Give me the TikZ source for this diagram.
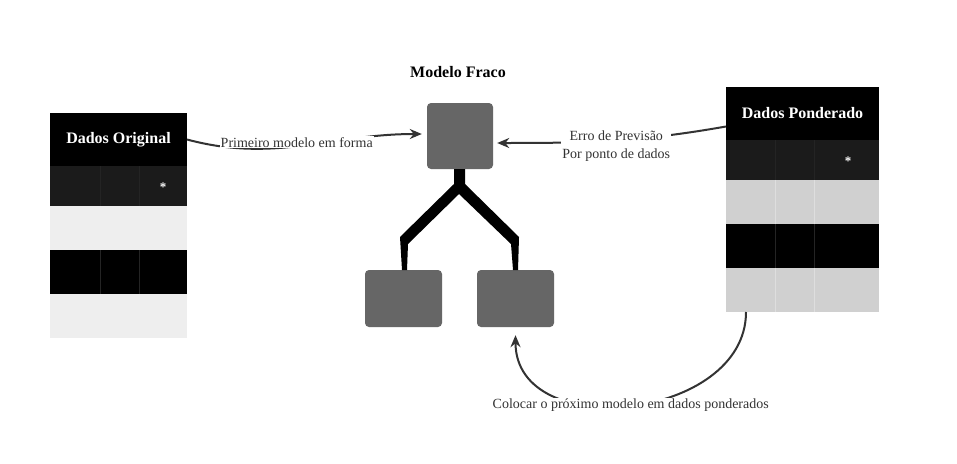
\documentclass[tikz,border=0pt]{standalone}
\usepackage{fontspec}
\setmainfont{Liberation Serif}
\usetikzlibrary{arrows.meta,calc}
\definecolor{rowdark}{HTML}{1B1B1B}
\definecolor{rowlight}{HTML}{EEEEEE}
\definecolor{rowgrey}{HTML}{D0D0D0}
\definecolor{boxgrey}{HTML}{666666}
\definecolor{linegrey}{HTML}{333333}
\tikzset{
  cell/.style={inner sep=0pt, outer sep=0pt, anchor=north},
  header/.style={cell, fill=black, text=white, font=\bfseries\fontsize{16}{18}\selectfont},
  model/.style={fill=boxgrey, rounded corners=4pt, inner sep=0pt},
  link/.style={draw=linegrey, line width=2pt, -{Stealth[length=12pt,width=10pt]}},
  caption/.style={fill=white, text=linegrey, inner sep=1pt, align=center,
    font=\fontsize{14}{18}\selectfont},
  mark text/.style={text=white, font=\bfseries\fontsize{13}{14}\selectfont}
}
\begin{document}
\begin{tikzpicture}[x=1pt, y=-1pt]
  \useasboundingbox[fill=white] (0,0) rectangle (957,463);
  % original data
  \node[header, minimum width=137pt, minimum height=53pt] (orig) at (118.5,113) {Dados Original};
  \foreach \i/\top/\h/\c in {1/166/40/rowdark, 2/206/44/rowlight, 3/250/44/black, 4/294/44/rowlight}
    \node[cell, fill=\c, minimum width=137pt, minimum height=\h] (orig-\i) at (118.5,\top) {};
  \foreach \x in {100,139}
    \draw[linegrey!70!black, line width=.6pt] (\x,166) -- (\x,206) (\x,250) -- (\x,294);
  \node[mark text] (orig-mark) at (163,187) {*};
  % weighted data
  \node[header, minimum width=153pt, minimum height=53pt] (pond) at (802.5,87) {Dados Ponderado};
  \foreach \i/\top/\h/\c in {1/140/40/rowdark, 2/180/44/rowgrey, 3/224/44/black, 4/268/44/rowgrey}
    \node[cell, fill=\c, minimum width=153pt, minimum height=\h] (pond-\i) at (802.5,\top) {};
  \foreach \x in {775,814}
    \draw[linegrey!70!black, line width=.6pt] (\x,140) -- (\x,180) (\x,224) -- (\x,268);
  \foreach \x in {775,814}
    \draw[rowgrey!70!white, line width=.6pt] (\x,180) -- (\x,224) (\x,268) -- (\x,312);
  \node[mark text] (pond-mark) at (848,161) {*};
  % weak model
  \node[font=\bfseries\fontsize{16}{18}\selectfont] (title) at (458,72) {Modelo Fraco};
  \node[model, minimum width=66pt, minimum height=66pt] (weak) at (460,136) {};
  \node[model, minimum width=77pt, minimum height=57pt] (leafl) at (403.5,298.5) {};
  \node[model, minimum width=77pt, minimum height=57pt] (leafr) at (515.5,298.5) {};
  \fill (454,169) -- (454,184) -- (400,237) -- (402,270) -- (407,270) -- (408,244)
    -- (459,194) -- (511,244) -- (513,270) -- (518,270) -- (519,237) -- (465,184)
    -- (465,169) -- cycle;
  % arrows
  \draw[link] (orig.east) to[out=-15, in=180]
    node[caption, pos=.47, yshift=4pt] (fit-label) {Primeiro modelo em forma} ($(weak.west)+(-5,-2)$);
  \draw[link] ($(pond.west)+(0,13)$) to[out=190, in=0]
    node[caption, pos=.48, yshift=-6pt] (err-label) {Erro de Previsão\\Por ponto de dados} ($(weak.east)+(4,7)$);
  \draw[link] ($(pond-4.south west)+(20,0)$) to[out=-90, in=-90, looseness=1.2]
    node[caption] (next-label) {Colocar o próximo modelo em dados ponderados} ($(leafr.south)+(0,8)$);
\end{tikzpicture}
\end{document}
